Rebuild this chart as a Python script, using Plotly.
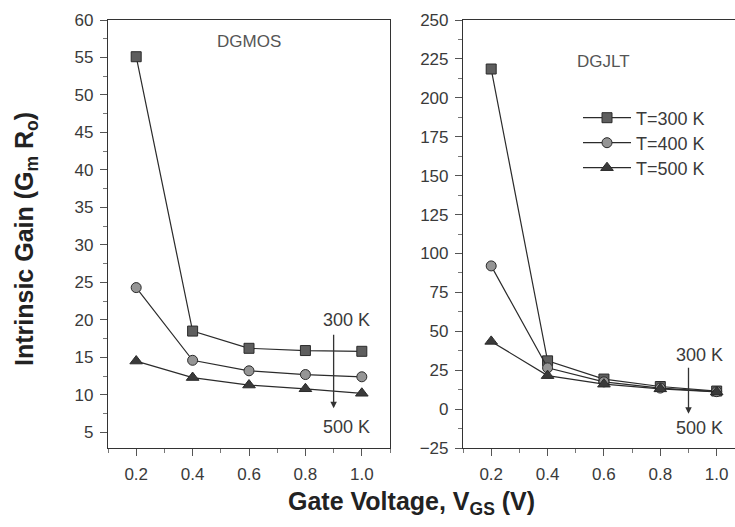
import plotly.graph_objects as go

# Gate voltage sweep (V)
vgs = [0.2, 0.4, 0.6, 0.8, 1.0]
vgs_labels = ["0.2", "0.4", "0.6", "0.8", "1.0"]

# Intrinsic gain, double-gate MOSFET
dgmos_300 = [55.1, 18.5, 16.2, 15.9, 15.8]
dgmos_400 = [24.3, 14.6, 13.2, 12.7, 12.4]
dgmos_500 = [14.5, 12.3, 11.3, 10.8, 10.2]

# Intrinsic gain, double-gate junctionless transistor
dgjlt_300 = [218.5, 31.0, 19.3, 14.5, 11.6]
dgjlt_400 = [92.0, 26.5, 17.5, 13.5, 11.2]
dgjlt_500 = [43.5, 21.5, 16.0, 13.0, 11.0]

temps = ["T=300 K", "T=400 K", "T=500 K"]
symbols = ["square", "circle", "triangle-up"]
fills = ["#5e5e5e", "#959595", "#3a3a3a"]

FONT = "Liberation Sans, Arial, sans-serif"
INK = "#333333"

fig = go.Figure()

left_sets = [dgmos_300, dgmos_400, dgmos_500]
right_sets = [dgjlt_300, dgjlt_400, dgjlt_500]

for i, (name, sym, col) in enumerate(zip(temps, symbols, fills)):
    marker = dict(symbol=sym, size=10 if sym != "triangle-up" else 11, color=col,
                  line=dict(color="#2a2a2a", width=1))
    line = dict(color="#2b2b2b", width=1.2)
    fig.add_trace(go.Scatter(x=vgs, y=left_sets[i], mode="lines+markers", name=name,
                             marker=marker, line=line, showlegend=False,
                             xaxis="x", yaxis="y"))
    legend_id = "legend" if i == 0 else f"legend{i + 1}"
    fig.add_trace(go.Scatter(x=vgs, y=right_sets[i], mode="lines+markers", name=name,
                             marker=marker, line=line, showlegend=True,
                             legend=legend_id, xaxis="x2", yaxis="y2"))

axis_common = dict(
    showline=True, linecolor=INK, linewidth=1.2,
    ticks="outside", ticklen=7, tickwidth=1, tickcolor="#555",
    ticklabelstandoff=3,
    showgrid=False, zeroline=False,
    tickfont=dict(family=FONT, size=17, color="#3a3a3a"),
)
minor_x = dict(ticks="outside", ticklen=4, dtick=0.1, tick0=0.1, tickcolor="#777")

fig.update_layout(
    width=735, height=527,
    margin=dict(l=108, r=0, t=20, b=79),
    paper_bgcolor="white", plot_bgcolor="white",
    font=dict(family=FONT, color=INK),
    xaxis=dict(domain=[0, 0.4498], range=[0.1, 1.1], tickmode="array",
               tickvals=vgs, ticktext=vgs_labels, mirror=True, minor=minor_x,
               **axis_common),
    yaxis=dict(domain=[0, 1], range=[2.9, 60], dtick=5, tick0=0, mirror=True,
               minor=dict(ticks="outside", ticklen=4, dtick=2.5, tick0=0, tickcolor="#777"),
               **axis_common),
    xaxis2=dict(domain=[0.5662, 1], range=[0.1, 1.065], tickmode="array",
                tickvals=vgs, ticktext=vgs_labels, mirror=True, anchor="y2",
                minor=minor_x, **axis_common),
    yaxis2=dict(domain=[0, 1], range=[-25, 250], dtick=25, tick0=0, anchor="x2",
                minor=dict(ticks="outside", ticklen=4, dtick=12.5, tick0=0, tickcolor="#777"),
                **axis_common),
)

# one legend box per temperature so the rows sit where they belong
legend_style = dict(bgcolor="rgba(0,0,0,0)", borderwidth=0, xanchor="left", yanchor="middle",
                    font=dict(family=FONT, size=18, color="#3a3a3a"),
                    itemwidth=48, tracegroupgap=0)
for i, key in enumerate(["legend", "legend2", "legend3"]):
    row_px = 118 + 25 * i
    fig.update_layout({key: dict(x=(578 - 108) / 627, y=1 - (row_px - 20) / 428, **legend_style)})

# panel labels
label_font = dict(family=FONT, size=17, color="#555")
fig.add_annotation(x=0.6, y=57.1, xref="x", yref="y", text="DGMOS", showarrow=False,
                   font=label_font)
fig.add_annotation(x=0.6, y=223.5, xref="x2", yref="y2", text="DGJLT", showarrow=False,
                   font=label_font)

# temperature direction arrows
arrow_font = dict(family=FONT, size=18, color="#3a3a3a")
fig.add_annotation(x=0.9, y=8.2, ax=0.9, ay=18.2, xref="x", yref="y", axref="x", ayref="y",
                   showarrow=True, arrowhead=2, arrowsize=1, arrowwidth=1.3, arrowcolor="#333",
                   text="")
fig.add_annotation(x=0.947, y=20.0, xref="x", yref="y", text="300 K", showarrow=False,
                   font=arrow_font)
fig.add_annotation(x=0.947, y=5.7, xref="x", yref="y", text="500 K", showarrow=False,
                   font=arrow_font)

fig.add_annotation(x=0.9, y=-3, ax=0.9, ay=27.6, xref="x2", yref="y2", axref="x2", ayref="y2",
                   showarrow=True, arrowhead=2, arrowsize=1, arrowwidth=1.3, arrowcolor="#333",
                   text="")
fig.add_annotation(x=0.94, y=35, xref="x2", yref="y2", text="300 K", showarrow=False,
                   font=arrow_font)
fig.add_annotation(x=0.94, y=-12, xref="x2", yref="y2", text="500 K", showarrow=False,
                   font=arrow_font)

# axis titles
fig.add_annotation(x=(26 - 108) / 627, y=1 - (239 - 20) / 428, xref="paper", yref="paper",
                   xanchor="center", yanchor="middle",
                   text="<b>Intrinsic Gain (G<sub>m</sub> R<sub>o</sub>)</b>", textangle=-90,
                   showarrow=False, font=dict(family=FONT, size=25, color="#222"))
fig.add_annotation(x=(411 - 108) / 627, y=1 - (503 - 20) / 428, xref="paper", yref="paper",
                   xanchor="center", yanchor="middle",
                   text="<b>Gate Voltage, V<sub>GS</sub> (V)</b>",
                   showarrow=False, font=dict(family=FONT, size=25, color="#222"))

fig.write_html("out.html")
